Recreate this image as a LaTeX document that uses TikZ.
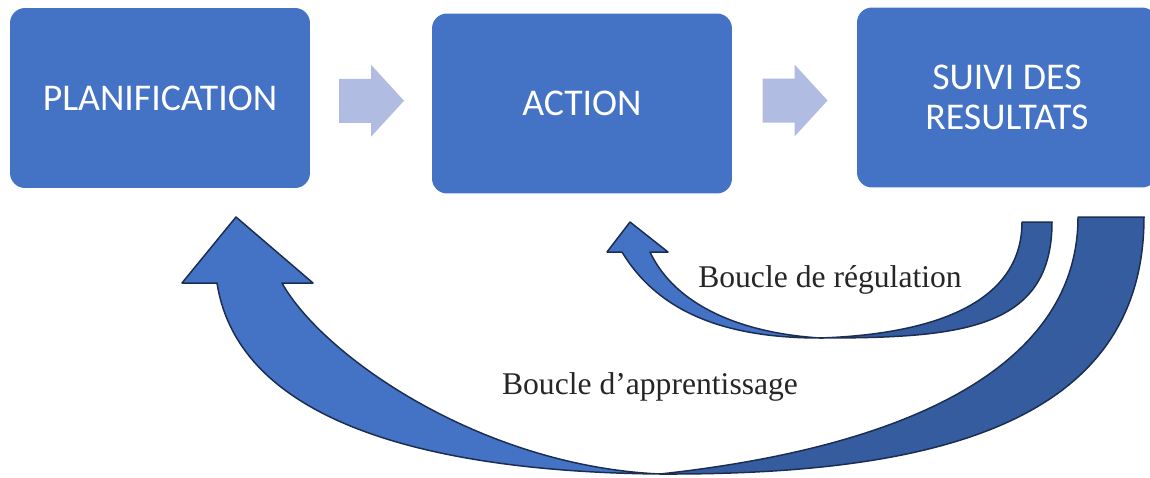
\documentclass[tikz,border=0pt]{standalone}
\usepackage{fontspec}
\setmainfont{Liberation Serif}
\newfontfamily\boxfont{Carlito}
\usetikzlibrary{calc}
\definecolor{boxblue}{HTML}{4472C4}
\definecolor{paleblue}{HTML}{B0BCE2}
\definecolor{backblue}{HTML}{345C9F}
\definecolor{edgeblue}{HTML}{1B2E52}

\begin{document}
\begin{tikzpicture}
  [x=0.02cm,y=-0.02cm,
   etape/.style={rectangle,rounded corners=0.3cm,fill=boxblue,text=white,
     font=\boxfont\fontsize{21.5}{22.7}\selectfont,align=center,
     minimum width=6cm,minimum height=3.6cm},
   boucle/.style={draw=edgeblue,line width=0.85pt,line join=round},
   legende/.style={text=black!85,font=\fontsize{18}{20}\selectfont}]
  \useasboundingbox (0,0) rectangle (1150,477);
  \clip (0,0) rectangle (1150,477);

  \node[etape] (plan)   at (160,98)    {PLANIFICATION};
  \node[etape] (action) at (582,103.5) {ACTION};
  \node[etape] (suivi)  at (1007,97.5) {SUIVI DES\\RESULTATS};

  \foreach \from/\to in {plan/action, action/suivi}
    \fill[paleblue] ($(\from.east)!0.5!(\to.west)$) ++(-32,-22) -- ++(32,0) -- ++(0,-14)
      -- ++(33,36) -- ++(-33,36) -- ++(0,-14) -- ++(-32,0) -- cycle;

  \coordinate (apprA) at (1078,217);
  \coordinate (apprB) at (1144,217);
  \coordinate (apprBas) at (660,474);
  \coordinate (apprPointe) at (236,217);
  \coordinate (regA) at (1022,222);
  \coordinate (regB) at (1052,222);
  \coordinate (regBas) at (820,338);
  \coordinate (regPointe) at (630,222);

  \filldraw[boucle,fill=backblue] (apprA) -- (apprB) .. controls (1144,430) and (920,475) .. (apprBas)
    .. controls (900,448) and (1078,370) .. (apprA) -- cycle;
  \filldraw[boucle,fill=boxblue] (apprBas) .. controls (450,472) and (240,430) .. (217,283)
    -- (182,283) -- (apprPointe) -- (313,283) -- (282,283)
    .. controls (322,355) and (480,466) .. (apprBas) -- cycle;

  \filldraw[boucle,fill=backblue] (regA) -- (regB) .. controls (1052,330) and (960,338) .. (regBas)
    .. controls (940,334) and (1022,300) .. (regA) -- cycle;
  \filldraw[boucle,fill=boxblue] (regBas) .. controls (730,338) and (660,315) .. (622,252)
    -- (607,252) -- (regPointe) -- (668,252) -- (650,252)
    .. controls (675,305) and (740,333) .. (regBas) -- cycle;

  \node[legende] (regul) at (830,280) {Boucle de régulation};
  \node[legende] (appr)  at (650,387) {Boucle d’apprentissage};

\end{tikzpicture}
\end{document}
